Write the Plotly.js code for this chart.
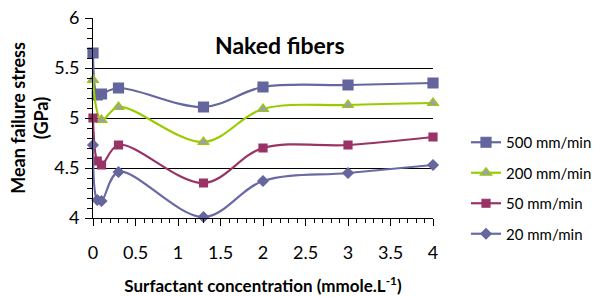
<!DOCTYPE html>
<html>
<head>
<meta charset="utf-8">
<script src="https://cdn.plot.ly/plotly-3.0.1.min.js"></script>
<style>html,body{margin:0;padding:0;background:#fff;}#chart{width:598px;height:297px;}</style>
</head>
<body>
<div id="chart"></div>
<script>
// Data
const seriesNames = ["500 mm/min", "200 mm/min", "50 mm/min", "20 mm/min"];
const x500 = [0, 0.05, 0.1, 0.3, 1.3, 2, 3, 4];
const y500 = [5.65, 5.23, 5.24, 5.30, 5.11, 5.31, 5.33, 5.35];
const x200 = [0, 0.1, 0.3, 1.3, 2, 3, 4];
const y200 = [5.38, 4.98, 5.11, 4.76, 5.09, 5.13, 5.15];
const x50 = [0, 0.05, 0.1, 0.3, 1.3, 2, 3, 4];
const y50 = [5.00, 4.57, 4.53, 4.73, 4.35, 4.70, 4.73, 4.81];
const x20 = [0, 0.05, 0.1, 0.3, 1.3, 2, 3, 4];
const y20 = [4.73, 4.18, 4.17, 4.46, 4.01, 4.37, 4.45, 4.53];
const xTickVals = [0, 0.5, 1, 1.5, 2, 2.5, 3, 3.5, 4];
const xTickText = ["0", "0.5", "1", "1.5", "2", "2.5", "3", "3.5", "4"];
const yTickVals = [4, 4.5, 5, 5.5, 6];
const yTickText = ["4", "4.5", "5", "5.5", "6"];

const FONT = "Lato, 'Liberation Sans', sans-serif";

function tr(x, y, name, color, symbol, size, mfill, mline, grp) {
  return {
    x: x, y: y, name: name, type: "scatter", mode: "lines+markers",
    legendgroup: grp, cliponaxis: false,
    line: {color: color, width: 2.2, shape: "spline", smoothing: 1},
    marker: {symbol: symbol, size: size, color: mfill, line: {color: mline, width: 1.2}}
  };
}

const data = [
  tr(x500, y500, seriesNames[0], "#6666a0", "square", 10, "#64649e", "#64649e", "a"),
  tr(x200, y200, seriesNames[1], "#99cc00", "triangle-up", 10, "#a0a0a0", "#99cc00", "b"),
  tr(x50, y50, seriesNames[2], "#993366", "square", 8, "#993366", "#993366", "c"),
  tr(x20, y20, seriesNames[3], "#6a6aa4", "diamond", 8, "#66669e", "#66669e", "d")
];

const layout = {
  width: 598, height: 297,
  margin: {l: 93, r: 165, t: 18, b: 79},
  paper_bgcolor: "#fff", plot_bgcolor: "#fff",
  font: {family: FONT, color: "#000", size: 15},
  showlegend: true,
  legend: {
    xref: "container", yref: "container",
    x: 466 / 598, xanchor: "left", y: 1 - 126 / 297, yanchor: "top",
    font: {family: FONT, size: 15, color: "#000"},
    traceorder: "grouped", tracegroupgap: 8,
    bgcolor: "rgba(0,0,0,0)"
  },
  xaxis: {
    range: [0, 4], tickvals: xTickVals, ticktext: xTickText,
    showgrid: false, zeroline: false,
    showline: true, linecolor: "#000", linewidth: 1,
    ticks: "outside", ticklen: 7, tickcolor: "#000", tickwidth: 1,
    ticklabelstandoff: 11,
    minor: {ticks: "outside", dtick: 0.1, ticklen: 4, tickcolor: "#000", showgrid: false},
    tickfont: {family: FONT, size: 18, color: "#000"},
    title: {text: "<b>Surfactant concentration (mmole.L<sup>-1</sup>)</b>", font: {family: FONT, size: 17, color: "#000"}, standoff: 18},
    fixedrange: true
  },
  yaxis: {
    range: [4, 6], tickvals: yTickVals, ticktext: yTickText,
    showgrid: true, gridcolor: "#000", gridwidth: 1,
    zeroline: false,
    showline: true, linecolor: "#000", linewidth: 1,
    ticks: "outside", ticklen: 7, tickcolor: "#000", tickwidth: 1,
    ticklabelstandoff: 2,
    minor: {ticks: "outside", dtick: 0.1, ticklen: 5, tickcolor: "#000", showgrid: false},
    tickfont: {family: FONT, size: 18, color: "#000"},
    title: {text: "<b>Mean failure stress<br>(GPa)</b>", font: {family: FONT, size: 18, color: "#000"}, standoff: 0},
    fixedrange: true
  },
  annotations: [{
    text: "<b>Naked fibers</b>", xref: "paper", yref: "paper",
    x: (280 - 93) / 340, y: 1 - (45 - 18) / 200, xanchor: "center", yanchor: "middle",
    showarrow: false, font: {family: FONT, size: 23, color: "#000"}
  }]
};

Plotly.newPlot("chart", data, layout, {displayModeBar: false, staticPlot: true});
</script>
</body>
</html>
